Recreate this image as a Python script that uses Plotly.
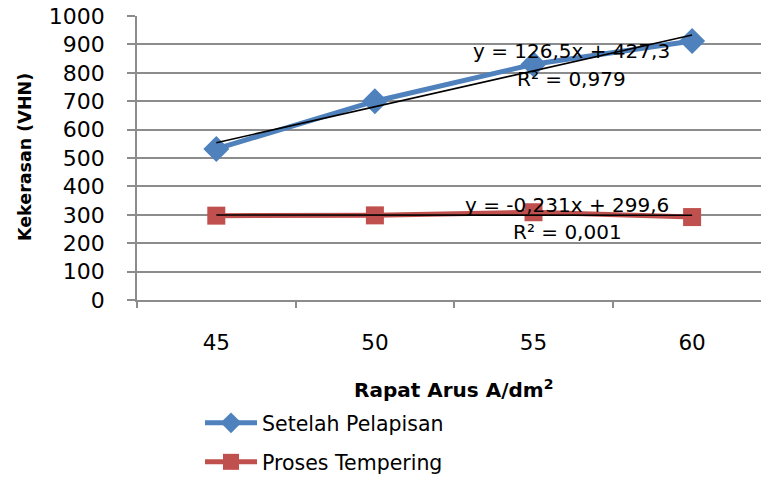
import plotly.graph_objects as go

categories = ["45", "50", "55", "60"]
setelah_pelapisan = [532, 700, 830, 912]
proses_tempering = [297, 298, 309, 292]
trend_slope = [126.5, -0.231]
trend_intercept = [427.3, 299.6]
trend_eq_text = ["y = 126,5x + 427,3", "y = -0,231x + 299,6"]
trend_r2_text = ["R² = 0,979", "R² = 0,001"]
y_ticks = list(range(0, 1001, 100))

W, H = 761, 477
L, T, B = 137, 16, 177
PW, PH = W - L, H - T - B
FONT = "DejaVu Sans"
GRID = "#8c8c8c"

idx = list(range(len(categories)))
fig = go.Figure()

fig.add_trace(go.Scatter(
    x=idx, y=setelah_pelapisan, mode="lines+markers", name="Setelah Pelapisan",
    line=dict(color="#4F81BD", width=5),
    marker=dict(symbol="diamond", size=20, color="#4F81BD"),
    legend="legend"))
fig.add_trace(go.Scatter(
    x=idx, y=proses_tempering, mode="lines+markers", name="Proses Tempering",
    line=dict(color="#C0504D", width=5),
    marker=dict(symbol="square", size=18, color="#C0504D"),
    legend="legend2"))

# linear trendlines (x = 1..n as in the spreadsheet)
for m, c in zip(trend_slope, trend_intercept):
    fig.add_trace(go.Scatter(
        x=[idx[0], idx[-1]],
        y=[m * (idx[0] + 1) + c, m * (idx[-1] + 1) + c],
        mode="lines", line=dict(color="black", width=1.6),
        showlegend=False, hoverinfo="skip"))

def px_x(p):
    return (p - L) / PW

def px_y(p):
    return (T + PH - p) / PH

ann_pos = [(571, 51, 79), (567, 205, 232)]
annotations = []
for (cx, ey, ry), eq, r2 in zip(ann_pos, trend_eq_text, trend_r2_text):
    annotations.append(dict(x=px_x(cx), y=px_y(ey), xref="paper", yref="paper",
                            xanchor="center", yanchor="middle",
                            text=eq, showarrow=False, font=dict(size=20, color="black", family=FONT)))
    annotations.append(dict(x=px_x(cx), y=px_y(ry), xref="paper", yref="paper",
                            xanchor="center", yanchor="middle",
                            text=r2, showarrow=False, font=dict(size=20, color="black", family=FONT)))

annotations.append(dict(x=px_x(25), y=px_y(157), xref="paper", yref="paper",
                        xanchor="center", yanchor="middle",
                        text="<b>Kekerasan (VHN)</b>", textangle=-90, showarrow=False,
                        font=dict(size=17.5, color="black", family=FONT)))
annotations.append(dict(x=px_x(453), y=px_y(389), xref="paper", yref="paper",
                        xanchor="center", yanchor="middle",
                        text="<b>Rapat Arus A/dm<sup>2</sup></b>", showarrow=False,
                        font=dict(size=20, color="black", family=FONT)))

fig.update_layout(
    width=W, height=H,
    margin=dict(l=L, r=0, t=T, b=B, pad=0, autoexpand=False),
    paper_bgcolor="white", plot_bgcolor="white",
    font=dict(family=FONT, color="black"),
    annotations=annotations,
    legend=dict(x=200 / W, y=1 - 423 / H, xref="container", yref="container",
                xanchor="left", yanchor="middle",
                font=dict(size=20.5, family=FONT), bgcolor="rgba(0,0,0,0)", itemwidth=52),
    legend2=dict(x=200 / W, y=1 - 462 / H, xref="container", yref="container",
                 xanchor="left", yanchor="middle",
                 font=dict(size=20.5, family=FONT), bgcolor="rgba(0,0,0,0)", itemwidth=52),
    xaxis=dict(range=[-0.5, -0.5 + PW / 158.6], tickvals=idx, ticktext=categories,
               ticks="", showgrid=False, zeroline=False, automargin=False,
               showline=True, linecolor=GRID, linewidth=1.5,
               tickfont=dict(size=21.5), ticklabelstandoff=22,
               minor=dict(tickvals=[-0.5, 0.5, 1.5, 2.5], ticks="outside", ticklen=6,
                          tickcolor=GRID, tickwidth=1.5, showgrid=False)),
    yaxis=dict(range=[0, 1000], tickvals=y_ticks, ticks="outside", ticklen=8,
               tickcolor=GRID, tickwidth=1.5, showgrid=True, gridcolor=GRID, gridwidth=1.5,
               zeroline=False, showline=True, linecolor=GRID, linewidth=1.5, automargin=False,
               tickfont=dict(size=22), ticklabelstandoff=18),
)

fig.write_html("out.html", config={"displayModeBar": False},
               post_script="document.body.style.margin='0';document.body.style.overflow='hidden';")
